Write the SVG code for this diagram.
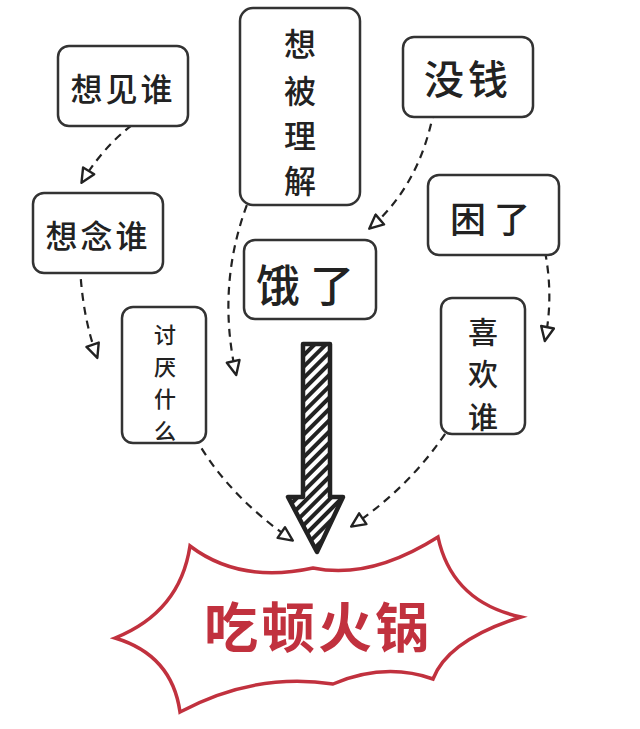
<svg xmlns="http://www.w3.org/2000/svg" width="640" height="729" viewBox="0 0 640 729">
<style>
.box{fill:#fff;stroke:#333;stroke-width:2.5}
.t{font-family:"Noto Sans CJK SC","Noto Sans",sans-serif;fill:#222;text-anchor:middle;dominant-baseline:central;font-weight:500}
.c{fill:none;stroke:#222;stroke-width:2.2;stroke-dasharray:8 6}
</style>
<defs>
<marker id="tri" viewBox="0 0 18 16" refX="15" refY="8" markerWidth="18" markerHeight="16" markerUnits="userSpaceOnUse" orient="auto">
<path d="M2,1.5 L16,8 L2,14.5 Z" fill="#fff" stroke="#222" stroke-width="2.4" stroke-linejoin="round"/>
</marker>
<pattern id="hatch" width="8" height="8" patternUnits="userSpaceOnUse" patternTransform="rotate(45)">
<rect width="8" height="8" fill="#fff"/>
<rect width="4" height="8" fill="#222"/>
</pattern>
</defs>
<rect width="640" height="729" fill="#fff"/>

<g id="connectors">
<path class="c" d="M155,110 Q110,135 82,182" marker-end="url(#tri)"/>
<path class="c" d="M80,265 Q82,315 97,357" marker-end="url(#tri)"/>
<path class="c" d="M252,192 Q215,280 236,374" marker-end="url(#tri)"/>
<path class="c" d="M434,110 Q420,185 370,228" marker-end="url(#tri)"/>
<path class="c" d="M542,238 Q555,290 545,340" marker-end="url(#tri)"/>
<path class="c" d="M188,424 Q220,490 292,540" marker-end="url(#tri)"/>
<path class="c" d="M460,410 Q420,480 352,526" marker-end="url(#tri)"/>
</g>

<g id="node-xiangjianshui">
<rect class="box" x="58" y="46" width="130" height="80" rx="11"/>
<text class="t" x="123" y="87" font-size="32" letter-spacing="3">想见谁</text>
</g>
<g id="node-xiangnianshui">
<rect class="box" x="33" y="193" width="130" height="80" rx="11"/>
<text class="t" x="98" y="234" font-size="32" letter-spacing="3">想念谁</text>
</g>
<g id="node-xiangbeilijie">
<rect class="box" x="240" y="8" width="120" height="197" rx="13"/>
<text class="t" x="300" y="42" font-size="32">想</text>
<text class="t" x="300" y="89" font-size="32">被</text>
<text class="t" x="300" y="134" font-size="32">理</text>
<text class="t" x="300" y="179" font-size="32">解</text>
</g>
<g id="node-meiqian">
<rect class="box" x="403" y="37" width="130" height="80" rx="11"/>
<text class="t" x="468" y="77" font-size="40" letter-spacing="4">没钱</text>
</g>
<g id="node-kunle">
<rect class="box" x="428" y="175" width="131" height="80" rx="11"/>
<text class="t" x="494" y="217" font-size="36" letter-spacing="8">困了</text>
</g>
<g id="node-ele">
<rect class="box" x="244" y="240" width="132" height="79" rx="11"/>
<text class="t" x="310" y="283" font-size="44" letter-spacing="10">饿了</text>
</g>
<g id="node-taoyan">
<rect class="box" x="122" y="307" width="84" height="136" rx="11"/>
<text class="t" x="165" y="333" font-size="22">讨</text>
<text class="t" x="165" y="365" font-size="22">厌</text>
<text class="t" x="165" y="397" font-size="22">什</text>
<text class="t" x="165" y="429" font-size="22">么</text>
</g>
<g id="node-xihuan">
<rect class="box" x="441" y="298" width="84" height="136" rx="11"/>
<text class="t" x="483" y="330" font-size="30">喜</text>
<text class="t" x="483" y="372" font-size="30">欢</text>
<text class="t" x="483" y="415" font-size="30">谁</text>
</g>

<g id="big-arrow">
<path d="M303,344 L330,344 L330,497 L343,497 L317,552 L288,497 L303,497 Z" fill="url(#hatch)" stroke="#222" stroke-width="4.5" stroke-linejoin="round"/>
</g>

<g id="node-hotpot">
<path d="M190,546 Q240,584 313,568 Q370,580 438,537 Q452,602 521,617 Q448,640 433,679 Q385,662 333,684 Q255,672 180,712 Q172,655 115,638 Q180,612 190,546 Z" fill="#fff" stroke="#c1313e" stroke-width="3.5" stroke-linejoin="miter"/>
<text x="318" y="624" font-family="'Noto Sans CJK SC','Noto Sans',sans-serif" font-size="54" font-weight="700" fill="#c1313e" text-anchor="middle" dominant-baseline="central" letter-spacing="3">吃顿火锅</text>
</g>
</svg>
